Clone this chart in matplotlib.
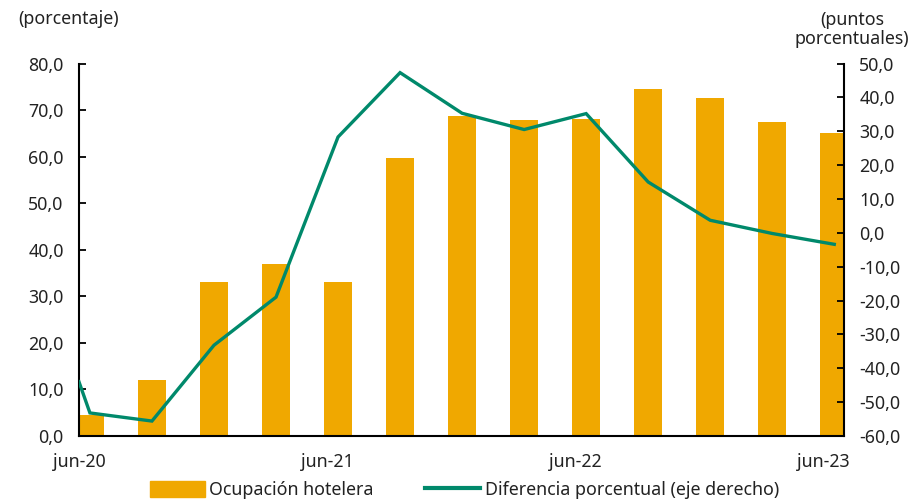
import matplotlib
matplotlib.use("Agg")
import matplotlib.pyplot as plt
from matplotlib.patches import Patch
from matplotlib.lines import Line2D

# quarterly data, jun-20 .. jun-23
periods = ['jun-20', 'sep-20', 'dic-20', 'mar-21', 'jun-21', 'sep-21', 'dic-21',
           'mar-22', 'jun-22', 'sep-22', 'dic-22', 'mar-23', 'jun-23']
ocupacion = [4.5, 12.0, 33.0, 36.9, 33.0, 59.6, 68.7, 67.8, 68.1, 74.6, 72.5, 67.5, 65.1]
# first value sits at the start of the axis, the rest at each quarter
diferencia = [-44.0, -53.2, -55.6, -33.2, -19.0, 28.3, 47.3, 35.3, 30.5, 35.2, 15.0, 3.7, -0.2, -3.4]
tick_labels = ['jun-20', 'jun-21', 'jun-22', 'jun-23']

bar_color = '#F0A800'
line_color = '#00896B'
plt.rcParams['font.family'] = ['Noto Sans', 'DejaVu Sans']
plt.rcParams['font.size'] = 12.8
plt.rcParams['text.color'] = '#222222'

months = [3 * i for i in range(len(periods))]
bar_x = [m + 0.53 for m in months]
line_x = [0.0] + bar_x

fig = plt.figure(figsize=(9.14, 5.04), dpi=100)
ax = fig.add_axes([0.0864, 0.135, 0.837, 0.739])
ax2 = ax.twinx()

ax.bar(bar_x, ocupacion, width=1.36, color=bar_color, zorder=2)
ax2.plot(line_x, diferencia, color=line_color, lw=2.4, solid_joinstyle='miter')

ax.set_xlim(0, 37)
ax.set_ylim(0, 80)
ax2.set_ylim(-60, 50)
ax.set_yticks(range(0, 81, 10))
ax.set_yticklabels([f'{v:.1f}'.replace('.', ',') for v in range(0, 81, 10)])
ax2.set_yticks(range(-60, 51, 10))
ax2.set_yticklabels([f'{v:.1f}'.replace('.', ',') for v in range(-60, 51, 10)])
ax.set_xticks([0, 12, 24, 36])
ax.set_xticklabels(tick_labels)

for a in (ax, ax2):
    a.spines['top'].set_visible(False)
    a.tick_params(direction='in', length=5, width=1.3, colors='black', labelcolor='#222222')
    for s in a.spines.values():
        s.set_linewidth(1.5)
ax.spines['right'].set_visible(False)
ax2.spines['left'].set_visible(False)
ax2.spines['bottom'].set_visible(False)
ax.tick_params(axis='y', pad=11)
ax2.tick_params(axis='y', pad=11)
ax.tick_params(axis='x', pad=12)

fig.text(0.02, 0.963, '(porcentaje)', ha='left', va='center')
fig.text(0.932, 0.942, '(puntos\nporcentuales)', ha='center', va='center', linespacing=1.05)

handles = [Patch(color=bar_color), Line2D([], [], color=line_color, lw=3)]
fig.legend(handles, ['Ocupación hotelera', 'Diferencia porcentual (eje derecho)'],
           loc='center', bbox_to_anchor=(0.508, 0.027), ncol=2, frameon=False,
           handlelength=3.1, handleheight=1.0, columnspacing=2.9, handletextpad=0.25)

fig.savefig('out.png', dpi=100)
